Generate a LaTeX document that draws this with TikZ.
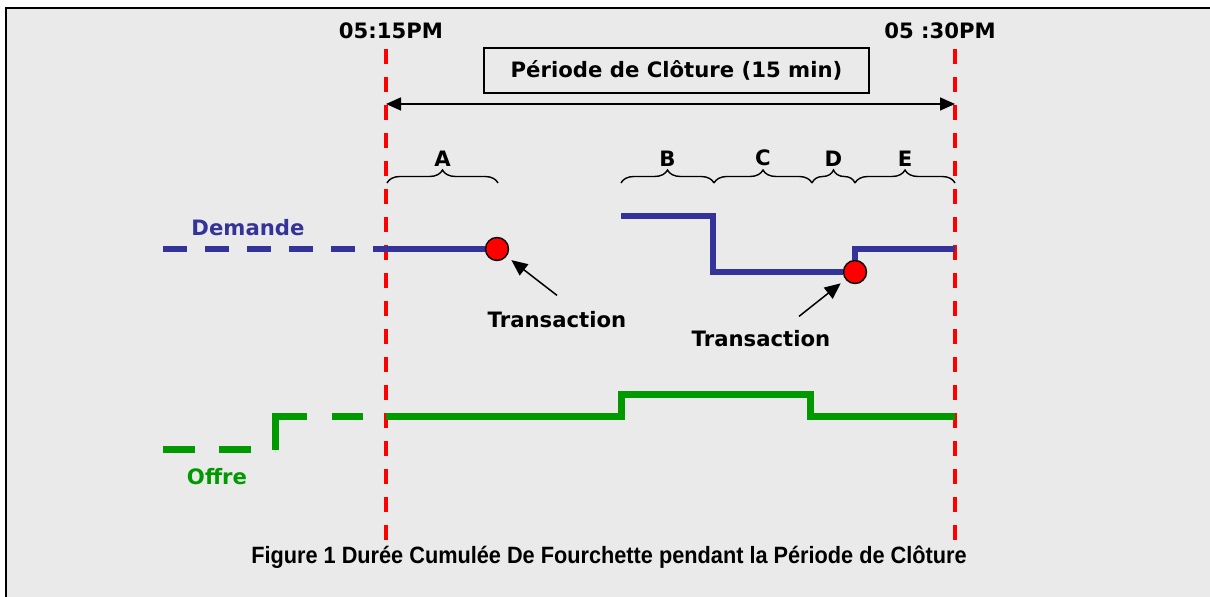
\documentclass[tikz,border=0pt]{standalone}
\usepackage{fontspec}
\setmainfont{DejaVu Sans}
\newfontfamily\capfont[FakeStretch=0.92]{Liberation Sans}
\usepackage{xcolor}
\usetikzlibrary{arrows.meta,decorations.pathreplacing}
\definecolor{demandblue}{HTML}{333399}
\definecolor{offergreen}{HTML}{009900}
\definecolor{panelgray}{HTML}{EAEAEA}
\tikzstyle{plain label}=[
    font = \fontsize{10.6}{12}\selectfont\bfseries,
    inner sep = 1pt
]
\tikzstyle{time mark}=[
    draw = red,
    line width = 2pt,
    dash pattern = on 7.5pt off 6.5pt
]
\tikzstyle{demand line}=[draw = demandblue, line width = 3pt]
\tikzstyle{offer line}=[draw = offergreen, line width = 3.5pt]
\tikzstyle{trade}=[
    circle,
    draw = black,
    line width = 0.7pt,
    fill = red,
    minimum size = 11.5pt,
    inner sep = 0pt
]
\tikzstyle{pointer}=[-{Triangle[length=8pt,width=7pt]}, line width = 0.75pt, shorten >= 3pt]
\tikzstyle{span brace}=[decorate, decoration = {brace, amplitude = 6.5pt}, line width = 0.7pt]

\begin{document}
\begin{tikzpicture}[x=0.5pt, y=-0.5pt, period/.style = {draw, line width=1pt, minimum width=192.5pt, minimum height=22.5pt}]
        \useasboundingbox (0,0) rectangle (1210,597);
        \fill[panelgray] (6,8) rectangle (1210,597);
        \draw[line width=1.25pt] (5,8) -- (1210,8);
        \draw[line width=1pt] (6,8) -- (6,597);

        \coordinate (open top) at (386,49);
        \coordinate (open bottom) at (386,540);
        \coordinate (close top) at (955,49);
        \coordinate (close bottom) at (955,540);
        \draw[time mark] (open top) -- (open bottom);
        \draw[time mark] (close top) -- (close bottom);

        \node[plain label] (t1) at (391,31) {05:15PM};
        \node[plain label] (t2) at (940,31) {05 :30PM};
        \node[plain label, period] (period) at (676.5,70.5) {Période de Clôture (15 min)};
        \coordinate (open arrow) at (386,104);
        \coordinate (close arrow) at (955,104);
        \draw[{Triangle[length=7.5pt,width=6.5pt]}-{Triangle[length=7.5pt,width=6.5pt]}, line width=0.75pt] (open arrow) -- (close arrow);

        \draw[span brace] (387,183) -- (498,183) node [midway, above=7pt, plain label] (A) {A};
        \draw[span brace] (621,183) -- (714,183) node [midway, above=7pt, plain label] (B) {B};
        \draw[span brace] (714,183) -- (812,183) node [midway, above=7pt, plain label] (C) {C};
        \draw[span brace] (812,183) -- (855,183) node [midway, above=7pt, plain label] (D) {D};
        \draw[span brace] (855,183) -- (955,183) node [midway, above=7pt, plain label] (E) {E};

        \node[plain label, text=demandblue] (demande) at (248,228) {Demande};
        \draw[demand line, dash pattern=on 12pt off 9pt] (163,249) -- (386,249);
        \node[trade] (tr1) at (497,249) {};
        \draw[demand line] (386,249) -- (tr1);
        \node[trade] (tr2) at (855,272) {};
        \draw[demand line] (621,216) -- (713,216) -- (713,272) -- (tr2);
        \draw[demand line] (tr2.north) -- (855,249) -- (955,249);

        \node[plain label] (tx1) at (557,320) {Transaction};
        \node[plain label] (tx2) at (761,339) {Transaction};
        \draw[pointer] ([yshift=7pt]tx1.north) -- (tr1);
        \draw[pointer] ([xshift=19pt,yshift=6pt]tx2.north) -- (tr2);

        \node[plain label, text=offergreen] (offre) at (217,477) {Offre};
        \draw[offer line, dash pattern=on 16pt off 12pt] (163,450) -- (275,450);
        \draw[offer line, dash pattern=on 32.5pt off 12.5pt on 15.5pt off 15pt] (275,450) -- (275,417) -- (386,417);
        \draw[offer line] (386,417) -- (621,417) -- (621,395) -- (810,395) -- (810,417) -- (955,417);

        \node[font=\capfont\fontsize{11.8}{14}\selectfont\bfseries] (caption) at (609,557) {Figure 1 Durée Cumulée De Fourchette pendant la Période de Clôture};
    \end{tikzpicture}
\end{document}
